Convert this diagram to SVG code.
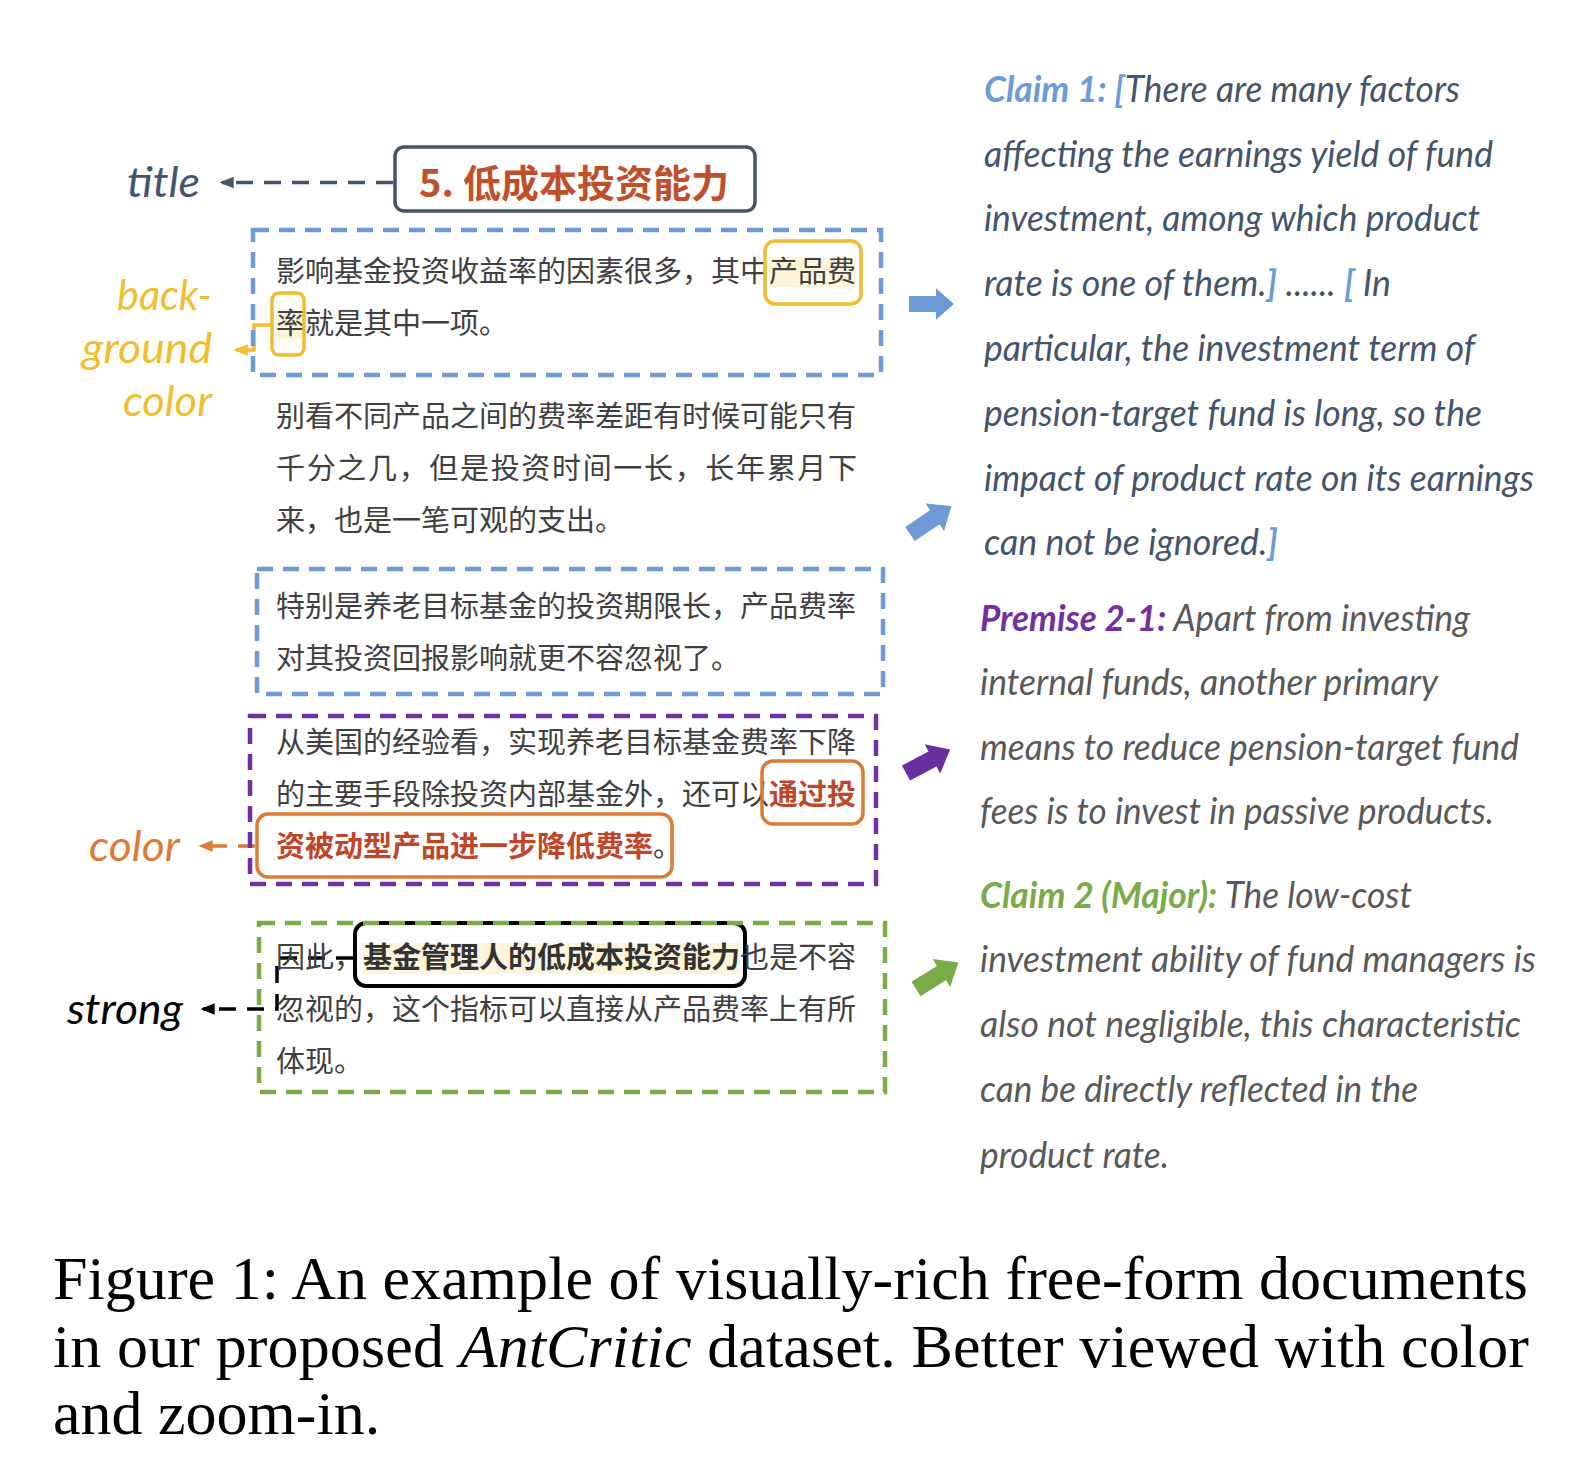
<svg xmlns="http://www.w3.org/2000/svg" width="1590" height="1468" viewBox="0 0 1590 1468">
<style>
.cn{font-family:"Noto Sans CJK SC",sans-serif;font-size:29px;fill:#404040}
.cnb{font-weight:bold}
.en{font-family:Lato,"Liberation Sans",sans-serif;font-style:italic;font-size:36px}
.lab{font-family:Lato,"Liberation Sans",sans-serif;font-style:italic;font-size:42px}
.dbox{fill:none;stroke-width:4.5;stroke-dasharray:16 10}
.conn{fill:none;stroke-width:3.5;stroke-dasharray:17 11}
.cap{font-family:"Liberation Serif","Times New Roman",serif;font-size:62px;fill:#000}
</style>
<defs>
<marker id="ah-slate" markerUnits="userSpaceOnUse" markerWidth="14" markerHeight="14" viewBox="0 0 12 12" refX="10" refY="6" orient="auto"><path d="M0,1 L12,6 L0,11 z" fill="#44546a"/></marker>
<marker id="ah-yellow" markerUnits="userSpaceOnUse" markerWidth="14" markerHeight="14" viewBox="0 0 12 12" refX="10" refY="6" orient="auto"><path d="M0,1 L12,6 L0,11 z" fill="#f0bd2f"/></marker>
<marker id="ah-orange" markerUnits="userSpaceOnUse" markerWidth="14" markerHeight="14" viewBox="0 0 12 12" refX="10" refY="6" orient="auto"><path d="M0,1 L12,6 L0,11 z" fill="#dc7b35"/></marker>
<marker id="ah-black" markerUnits="userSpaceOnUse" markerWidth="14" markerHeight="14" viewBox="0 0 12 12" refX="10" refY="6" orient="auto"><path d="M0,1 L12,6 L0,11 z" fill="#000"/></marker>
<path id="blk" d="M0,-8.5 H30 V-16.5 L50,0 L30,16.5 V8.5 H0 Z"/>
</defs>

<g id="connectors">
<path class="conn" d="M393,182.5 H222" stroke="#44546a" marker-end="url(#ah-slate)"/>
<path d="M272,325 H254 V350 H236" fill="none" stroke="#f0bd2f" stroke-width="3.5" marker-end="url(#ah-yellow)"/>
<path class="conn" d="M255,846 H201" stroke="#dc7b35" marker-end="url(#ah-orange)"/>
<path class="conn" d="M353,958 H277 V1009 H203" stroke="#000" marker-end="url(#ah-black)"/>
<use href="#blk" transform="translate(909,304) scale(0.9,0.95)" fill="#6d9bd6"/>
<use href="#blk" transform="translate(910,534) rotate(-34)" fill="#6d9bd6"/>
<use href="#blk" transform="translate(906,773) rotate(-28)" fill="#6a2f9e"/>
<use href="#blk" transform="translate(916,989) rotate(-32)" fill="#7aab48"/>
</g>

<g id="label-title"><text class="lab" x="127" y="197" fill="#44546a" textLength="73" lengthAdjust="spacingAndGlyphs">title</text></g>
<g id="label-background">
<text class="lab" x="212" y="310" text-anchor="end" fill="#f0bd2f" textLength="95" lengthAdjust="spacingAndGlyphs">back-</text>
<text class="lab" x="212" y="363" text-anchor="end" fill="#f0bd2f" textLength="130" lengthAdjust="spacingAndGlyphs">ground</text>
<text class="lab" x="212" y="416" text-anchor="end" fill="#f0bd2f" textLength="89" lengthAdjust="spacingAndGlyphs">color</text>
</g>
<g id="label-color"><text class="lab" x="89" y="861" fill="#dc7b35" textLength="91" lengthAdjust="spacingAndGlyphs">color</text></g>
<g id="label-strong"><text class="lab" x="67" y="1024" fill="#000" textLength="116" lengthAdjust="spacingAndGlyphs">strong</text></g>

<g id="title-node">
<rect x="395" y="147" width="360" height="64" rx="9" fill="#fff" stroke="#44546a" stroke-width="3.5"/>
<text class="cn cnb" x="419" y="197" style="font-size:38px;fill:#c0502b">5.<tspan x="463">低成本投资能力</tspan></text>
</g>

<g id="para1">
<rect x="769" y="257" width="87" height="30" fill="#fdf5da"/>
<rect x="276" y="309" width="29" height="30" fill="#fdf5da"/>
<rect class="dbox" x="253" y="230" width="628" height="145" stroke="#6d9bd6"/>
<text class="cn" x="276" y="282">影响基金投资收益率的因素很多，其中产品费</text>
<text class="cn" x="276" y="334">率就是其中一项。</text>
<rect x="765" y="241" width="96" height="63" rx="10" fill="none" stroke="#f0bd2f" stroke-width="3.5"/>
<rect x="272" y="293" width="32" height="62" rx="7" fill="none" stroke="#f0bd2f" stroke-width="3.5"/>
</g>

<g id="para2">
<text class="cn" x="276" y="427">别看不同产品之间的费率差距有时候可能只有</text>
<text class="cn" x="276" y="479" textLength="581" lengthAdjust="spacing">千分之几，但是投资时间一长，长年累月下</text>
<text class="cn" x="276" y="531">来，也是一笔可观的支出。</text>
</g>

<g id="para3">
<rect class="dbox" x="257" y="569" width="626" height="125" stroke="#6d9bd6"/>
<text class="cn" x="276" y="617">特别是养老目标基金的投资期限长，产品费率</text>
<text class="cn" x="276" y="669">对其投资回报影响就更不容忽视了。</text>
</g>

<g id="para4">
<rect class="dbox" x="250" y="716" width="626" height="168" stroke="#7030a0"/>
<text class="cn" x="276" y="753">从美国的经验看，实现养老目标基金费率下降</text>
<text class="cn" x="276" y="805">的主要手段除投资内部基金外，还可以<tspan class="cnb" fill="#c0462a">通过投</tspan></text>
<text class="cn" x="276" y="857"><tspan class="cnb" fill="#c0462a">资被动型产品进一步降低费率</tspan>。</text>
<rect x="762" y="761" width="101" height="63" rx="11" fill="none" stroke="#dc7b35" stroke-width="3.5"/>
<rect x="257" y="814" width="415" height="63" rx="11" fill="none" stroke="#dc7b35" stroke-width="3.5"/>
</g>

<g id="para5">
<rect x="363" y="943" width="377" height="31" fill="#fdf5da"/>
<rect x="355" y="923" width="390" height="63" rx="11" fill="none" stroke="#000" stroke-width="4"/>
<rect class="dbox" x="259" y="923" width="626" height="169" stroke="#7aab48"/>
<text class="cn" x="276" y="968">因此，<tspan class="cnb" fill="#333333">基金管理人的低成本投资能力</tspan>也是不容</text>
<text class="cn" x="276" y="1020">忽视的，这个指标可以直接从产品费率上有所</text>
<text class="cn" x="276" y="1072">体现。</text>
</g>

<g id="claim1" fill="#44546a">
<text class="en" x="984" y="102" textLength="476" lengthAdjust="spacingAndGlyphs"><tspan font-weight="bold" fill="#6d9bd6">Claim 1: [</tspan>There are many factors</text>
<text class="en" x="984" y="167" textLength="509" lengthAdjust="spacingAndGlyphs">affecting the earnings yield of fund</text>
<text class="en" x="984" y="231" textLength="496" lengthAdjust="spacingAndGlyphs">investment, among which product</text>
<text class="en" x="984" y="296" textLength="407" lengthAdjust="spacingAndGlyphs">rate is one of them.<tspan font-weight="bold" fill="#6d9bd6">]</tspan> ...... <tspan font-weight="bold" fill="#6d9bd6">[</tspan> In</text>
<text class="en" x="984" y="361" textLength="491" lengthAdjust="spacingAndGlyphs">particular, the investment term of</text>
<text class="en" x="984" y="426" textLength="498" lengthAdjust="spacingAndGlyphs">pension-target fund is long, so the</text>
<text class="en" x="984" y="491" textLength="550" lengthAdjust="spacingAndGlyphs">impact of product rate on its earnings</text>
<text class="en" x="984" y="555" textLength="294" lengthAdjust="spacingAndGlyphs">can not be ignored.<tspan font-weight="bold" fill="#6d9bd6">]</tspan></text>
</g>

<g id="premise21" fill="#595959">
<text class="en" x="980" y="631" textLength="490" lengthAdjust="spacingAndGlyphs"><tspan font-weight="bold" fill="#7030a0">Premise 2-1:</tspan> Apart from investing</text>
<text class="en" x="980" y="695" textLength="458" lengthAdjust="spacingAndGlyphs">internal funds, another primary</text>
<text class="en" x="980" y="760" textLength="539" lengthAdjust="spacingAndGlyphs">means to reduce pension-target fund</text>
<text class="en" x="980" y="824" textLength="514" lengthAdjust="spacingAndGlyphs">fees is to invest in passive products.</text>
</g>

<g id="claim2" fill="#595959">
<text class="en" x="980" y="908" textLength="432" lengthAdjust="spacingAndGlyphs"><tspan font-weight="bold" fill="#7aab48">Claim 2 (Major):</tspan> The low-cost</text>
<text class="en" x="980" y="972" textLength="556" lengthAdjust="spacingAndGlyphs">investment ability of fund managers is</text>
<text class="en" x="980" y="1037" textLength="541" lengthAdjust="spacingAndGlyphs">also not negligible, this characteristic</text>
<text class="en" x="980" y="1102" textLength="438" lengthAdjust="spacingAndGlyphs">can be directly reflected in the</text>
<text class="en" x="980" y="1168" textLength="189" lengthAdjust="spacingAndGlyphs">product rate.</text>
</g>

<g id="caption">
<text class="cap" x="53" y="1299" textLength="1475" lengthAdjust="spacing">Figure 1: An example of visually-rich free-form documents</text>
<text class="cap" x="53" y="1367" textLength="1476" lengthAdjust="spacing">in our proposed <tspan font-style="italic">AntCritic</tspan> dataset. Better viewed with color</text>
<text class="cap" x="53" y="1434">and zoom-in.</text>
</g>
</svg>
